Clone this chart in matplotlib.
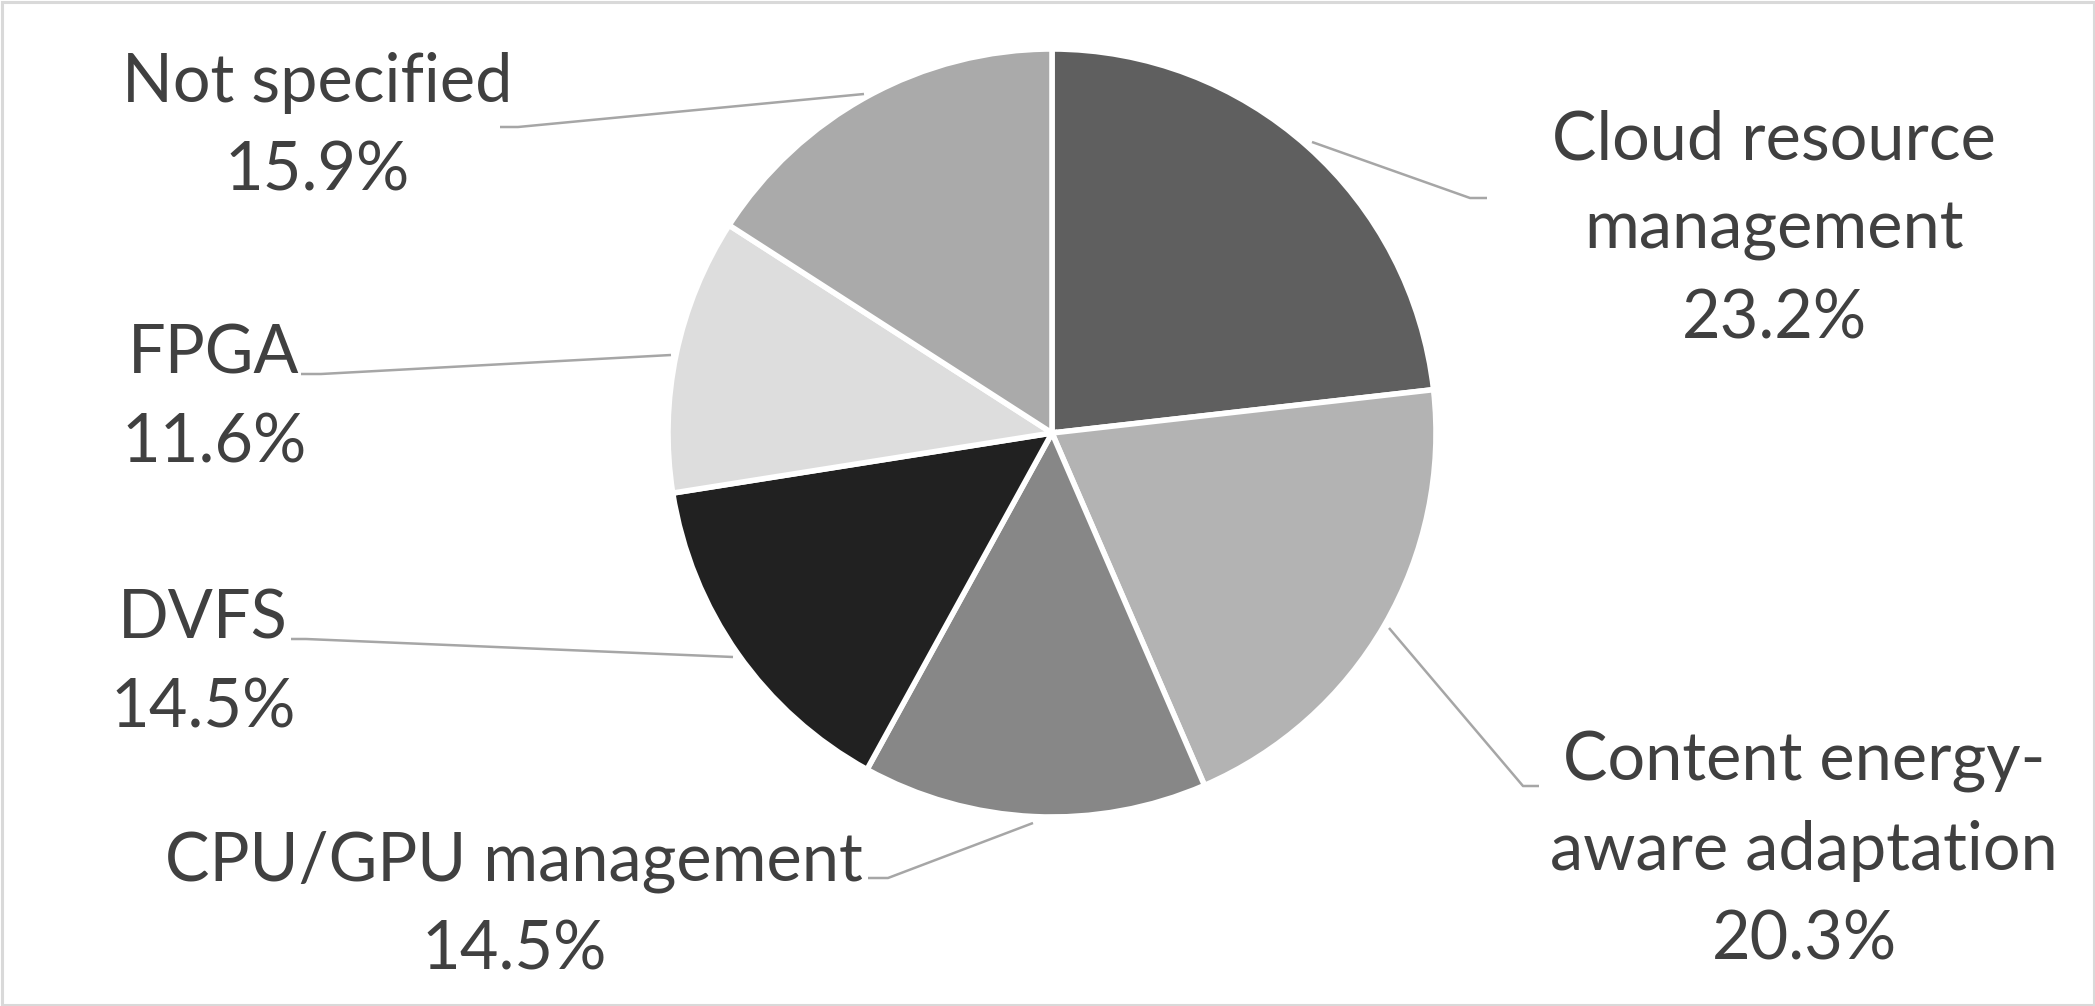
import matplotlib
matplotlib.use("Agg")
import matplotlib.pyplot as plt
from matplotlib.patches import Rectangle

# Shares of the surveyed works, clockwise from 12 o'clock
labels = ["Cloud resource\nmanagement", "Content energy-\naware adaptation",
          "CPU/GPU management", "DVFS", "FPGA", "Not specified"]
shares = [23.2, 20.3, 14.5, 14.5, 11.6, 15.9]
colors = ["#5f5f5f", "#b3b3b3", "#878787", "#212121", "#dddddd", "#aaaaaa"]

W, H = 2095, 1006
plt.rcParams["font.family"] = ["Lato", "DejaVu Sans"]

fig = plt.figure(figsize=(W / 100, H / 100), dpi=100)
ax = fig.add_axes([0, 0, 1, 1])


def flip(y):
    # picture rows run downwards, the axes run upwards
    return H - y


ax.pie(shares, colors=colors, startangle=90, counterclock=False,
       center=(1052, flip(433)), radius=384, frame=True,
       wedgeprops=dict(edgecolor="white", linewidth=4))
ax.set_xlim(0, W)
ax.set_ylim(0, H)
ax.set_aspect("equal")
ax.axis("off")

# label centres and leader lines, in picture pixels
label_pos = [(1774, 230), (1804, 851), (514, 906), (203, 664), (214, 399), (317, 127)]
leaders = [
    [(1312, 142), (1470, 198), (1487, 198)],
    [(1389, 628), (1523, 786), (1539, 786)],
    [(1033, 823), (888, 878), (868, 878)],
    [(733, 657), (306, 639), (291, 639)],
    [(671, 355), (321, 374), (301, 374)],
    [(864, 94), (518, 127), (500, 127)],
]

for lab, share, (x, y), pts in zip(labels, shares, label_pos, leaders):
    ax.text(x, flip(y), "%s\n%.1f%%" % (lab, share), ha="center", va="center",
            fontsize=48, color="#404040", linespacing=1.54)
    ax.plot([p[0] for p in pts], [flip(p[1]) for p in pts],
            color="#a6a6a6", linewidth=1.8, solid_capstyle="butt")

# thin grey frame round the chart area
fig.patches.append(Rectangle((1.5 / W, 1.5 / H), 1 - 3.0 / W, 1 - 3.0 / H,
                             transform=fig.transFigure, fill=False,
                             edgecolor="#d9d9d9", linewidth=2.2))

fig.savefig("out.png", dpi=100)
